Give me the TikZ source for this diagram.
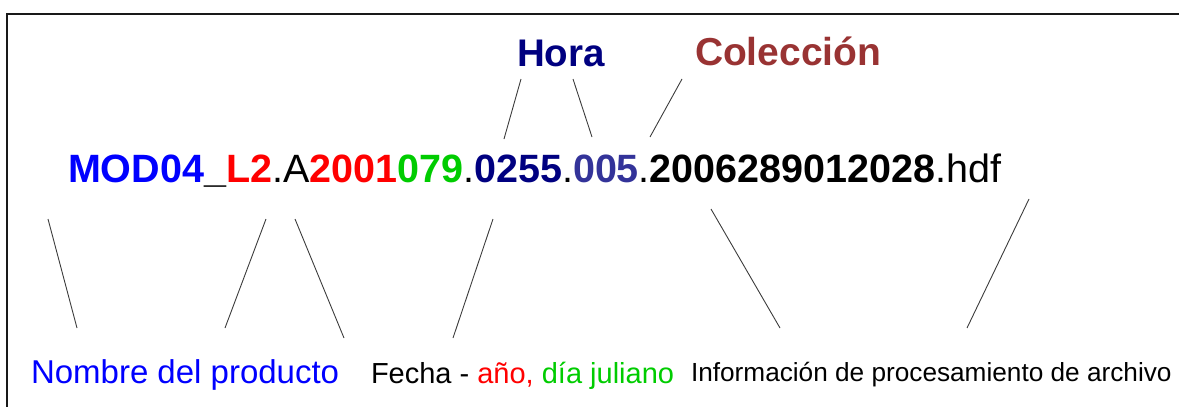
\documentclass[tikz,border=0pt]{standalone}
\usepackage{fontspec}
\setmainfont{Liberation Sans}
\definecolor{cblue}{RGB}{0,0,255}
\definecolor{cred}{RGB}{255,0,0}
\definecolor{cgreen}{RGB}{0,204,0}
\definecolor{cnavy}{RGB}{0,0,128}
\definecolor{cslate}{RGB}{51,51,153}
\definecolor{cbrown}{RGB}{153,51,51}
\definecolor{cline}{RGB}{60,60,60}
\tikzset{
  lbl/.style={anchor=base west, inner sep=0pt, outer sep=0pt},
  conn/.style={draw=cline, line width=0.9pt},
}
\begin{document}
\begin{tikzpicture}[x=1pt,y=-1pt]
\useasboundingbox (0,0) rectangle (1179,407);
\draw[line width=2.2pt, black!90] (7,420) -- (7,14) -- (1190,14);
% main file name
\node[lbl] (fname) at (68,182) {\fontsize{39.5}{48}\selectfont
  \textbf{\textcolor{cblue}{MOD04}\_\textcolor{cred}{L2}}.A\textbf{\textcolor{cred}{2001}\textcolor{cgreen}{079}}.\textbf{\textcolor{cnavy}{0255}}.\textbf{\textcolor{cslate}{005}}.\textbf{2006289012028}.hdf};
% top labels
\node[lbl, text=cnavy] (hora) at (517,66) {\fontsize{38.5}{46}\selectfont\bfseries Hora};
\node[lbl, text=cbrown] (coleccion) at (695,65) {\fontsize{39}{46}\selectfont\bfseries Colección};
% bottom labels
\node[lbl, text=cblue] (nombre) at (31,383) {\fontsize{33}{40}\selectfont Nombre del producto};
\node[lbl] (fecha) at (371,383) {\fontsize{29}{35}\selectfont Fecha - \textcolor{cred}{año,} \textcolor{cgreen}{día juliano}};
\node[lbl] (info) at (691,381) {\fontsize{26.2}{32}\selectfont Información de procesamiento de archivo};
% connector end points
\coordinate (h1a) at (521,79);  \coordinate (h1b) at (504,139);
\coordinate (h2a) at (573,79);  \coordinate (h2b) at (592,137);
\coordinate (c1a) at (682,79);  \coordinate (c1b) at (650,137);
\coordinate (n1a) at (48,219);  \coordinate (n1b) at (77,328);
\coordinate (n2a) at (266,219); \coordinate (n2b) at (225,328);
\coordinate (f1a) at (295,219); \coordinate (f1b) at (344,338);
\coordinate (f2a) at (493,219); \coordinate (f2b) at (453,338);
\coordinate (i1a) at (711,209); \coordinate (i1b) at (780,328);
\coordinate (i2a) at (1029,199); \coordinate (i2b) at (967,328);
\draw[conn] (h1a) -- (h1b);
\draw[conn] (h2a) -- (h2b);
\draw[conn] (c1a) -- (c1b);
\draw[conn] (n1a) -- (n1b);
\draw[conn] (n2a) -- (n2b);
\draw[conn] (f1a) -- (f1b);
\draw[conn] (f2a) -- (f2b);
\draw[conn] (i1a) -- (i1b);
\draw[conn] (i2a) -- (i2b);
\end{tikzpicture}
\end{document}
